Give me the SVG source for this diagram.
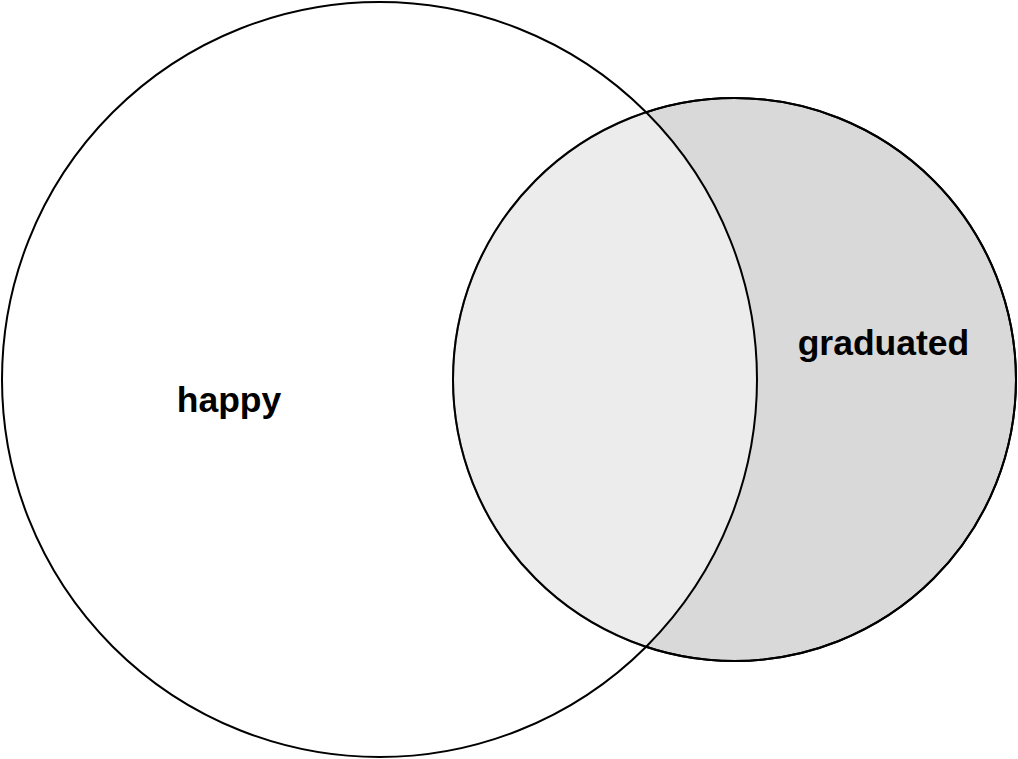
<svg xmlns="http://www.w3.org/2000/svg" width="1018" height="759" viewBox="0 0 1018 759">
<style>
.c{stroke:#000;stroke-width:2}
.t{font-family:"Liberation Sans",Arial,sans-serif;font-weight:bold;font-size:35.5px;fill:#000;text-anchor:middle}
</style>
<rect width="1018" height="759" fill="#fff"/>
<g id="graduated">
<circle class="c" cx="734.5" cy="379.5" r="281.5" fill="#d9d9d9"/>
</g>
<g id="happy">
<circle class="c" cx="379.5" cy="379.5" r="377.5" fill="#fff" fill-opacity="0.5"/>
</g>
<g id="outline">
<circle cx="734.5" cy="379.5" r="281.5" fill="none" stroke="#000" stroke-width="2"/>
</g>
<g id="labels">
<text class="t" x="229" y="412">happy</text>
<text class="t" x="883.5" y="355">graduated</text>
</g>
</svg>
